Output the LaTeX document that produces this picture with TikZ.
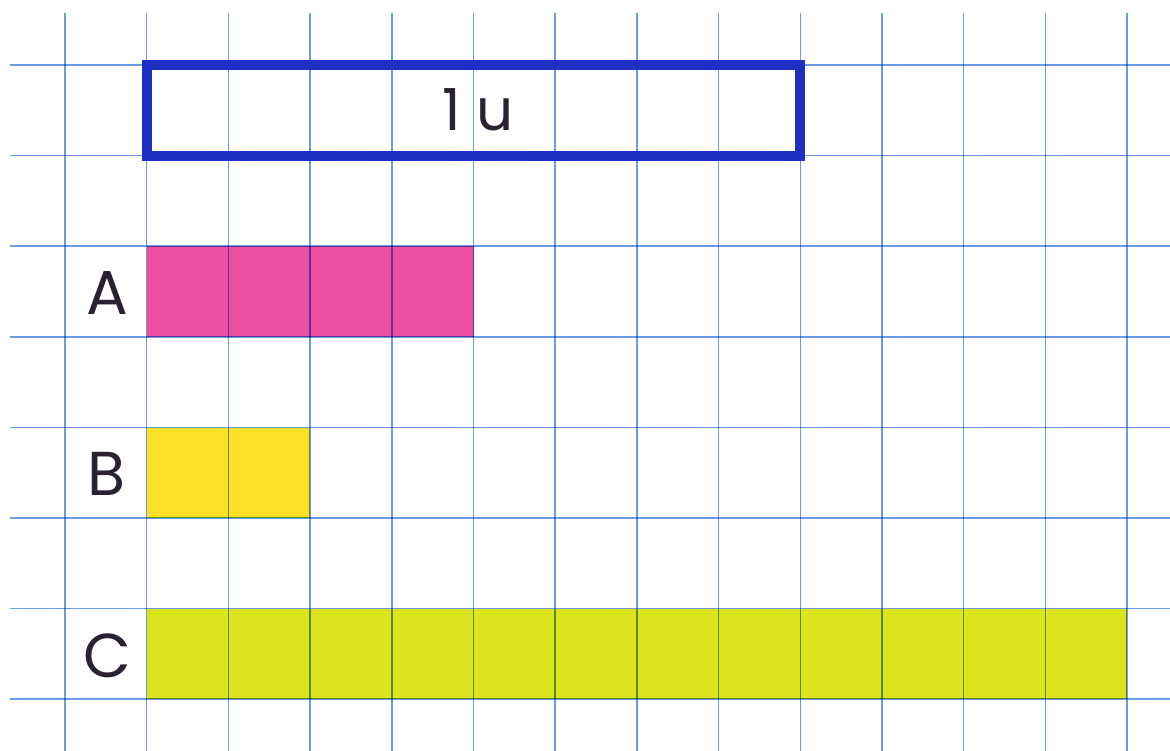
\documentclass[tikz,border=0pt]{standalone}
\usepackage{fontspec}
\setmainfont{Poppins}
\definecolor{gridblue}{HTML}{6A9BE6}
\definecolor{boxblue}{HTML}{1E30C4}
\definecolor{barpink}{HTML}{EC4F9F}
\definecolor{baryellow}{HTML}{FCE026}
\definecolor{barlime}{HTML}{DCE41E}
\definecolor{inkdark}{HTML}{2A2230}
\tikzset{
  gridline/.style={draw=gridblue, line width=1.5pt},
  bar/.style={draw=none, anchor=north west, inner sep=0pt, minimum height=90.6pt},
  unitbox/.style={draw=boxblue, line width=10pt, inner sep=0pt, text=inkdark,
    font=\fontsize{58}{58}\selectfont},
  letter/.style={text=inkdark, font=\fontsize{62}{62}\selectfont, inner sep=0pt}
}
\begin{document}
\begin{tikzpicture}[x=1pt,y=-1pt]
\useasboundingbox (0,0) rectangle (1170,751);
\fill[white] (0,0) rectangle (1170,751);
% bars
\node[bar, fill=barpink, minimum width=326.8pt] (A) at (146.7,246.2) {};
\node[bar, fill=baryellow, minimum width=163.4pt] (B) at (146.7,427.4) {};
\node[bar, fill=barlime, minimum width=980.4pt] (C) at (146.7,608.6) {};
% grid
\begin{scope}[blend mode=multiply]
\foreach \i in {0,...,13} \draw[gridline] ({65+81.7*\i},13) -- ({65+81.7*\i},751);
\foreach \j in {0,...,7} \draw[gridline] (10,{65+90.6*\j}) -- (1170,{65+90.6*\j});
\end{scope}
% unit box
\node[unitbox, minimum width=653.6pt, minimum height=90.6pt] (unit) at (473.5,110.3) {};
\node[unitbox, draw=none] (ulabel) at (478,110) {1\hspace{16pt}u};
% labels
\node[letter] (la) at (107,293) {A};
\node[letter] (lb) at (107,474) {B};
\node[letter] (lc) at (107,656) {C};
\end{tikzpicture}
\end{document}
